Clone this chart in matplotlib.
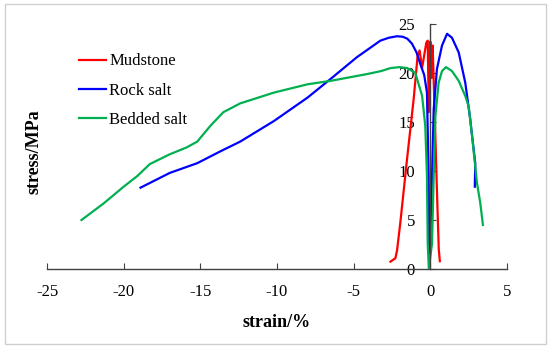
import matplotlib
matplotlib.use('Agg')
import matplotlib.pyplot as plt
from matplotlib.patches import Rectangle

# strain (%) and stress (MPa)
mud_strain = [-2.6, -2.28, -2.17, -1.96, -1.52, -1.09, -0.83, -0.7, -0.54, -0.26,
              -0.17, -0.1, 0.0, 0.08, 0.15, 0.3, 0.45, 0.55, 0.62]
mud_stress = [0.75, 1.1, 1.9, 4.7, 11.2, 17.3, 21.75, 22.3, 20.5, 23.1,
              23.3, 16.0, 23.2, 19.5, 22.8, 15.0, 7.0, 2.0, 0.8]

rock_strain = [-18.9, -17.0, -15.2, -13.7, -12.4, -10.2, -8.0, -6.5, -4.8, -3.26,
               -2.7, -2.17, -1.8, -1.5, -1.2, -0.9, -0.65, -0.4, -0.22, -0.11,
               -0.07, 0.11, 0.22, 0.43, 0.76, 1.09, 1.41, 1.85, 2.28, 2.6,
               2.7, 2.93, 2.9]
rock_stress = [8.3, 9.8, 10.8, 12.0, 13.0, 15.1, 17.5, 19.4, 21.6, 23.3,
               23.6, 23.75, 23.7, 23.5, 23.0, 22.1, 20.9, 19.8, 18.0, 9.5,
               0.2, 9.5, 16.3, 20.4, 22.8, 24.0, 23.6, 22.1, 19.0, 15.3,
               13.9, 10.8, 8.4]

bed_strain = [-22.75, -21.3, -20.0, -19.1, -18.3, -17.0, -15.9, -15.2, -14.35, -13.5,
              -12.4, -10.2, -8.0, -6.5, -4.1, -3.2, -2.6, -2.0, -1.5, -0.98,
              -0.54, -0.33, -0.22, -0.17, -0.1, 0.11, 0.22, 0.33, 0.54, 0.76,
              1.02, 1.41, 1.85, 2.28, 2.5, 2.72, 3.04, 3.26, 3.43]
bed_stress = [5.0, 6.7, 8.4, 9.5, 10.7, 11.7, 12.4, 13.0, 14.6, 16.0,
              16.9, 18.0, 18.85, 19.2, 19.9, 20.2, 20.5, 20.6, 20.5, 20.0,
              17.7, 14.6, 9.5, 2.6, 0.07, 2.6, 9.5, 15.6, 19.0, 20.2,
              20.6, 20.2, 19.2, 17.65, 16.6, 13.6, 8.8, 6.7, 4.5]

serif = ['Liberation Serif', 'DejaVu Serif']
plt.rcParams['font.family'] = serif
plt.rcParams['axes.unicode_minus'] = False

fig = plt.figure(figsize=(5.5, 3.48), dpi=100)
ax = fig.add_axes([47 / 550, 1 - 269 / 348, 460 / 550, 245 / 348])

ax.plot(mud_strain, mud_stress, color='#ff0000', lw=1.6, label='Mudstone')
ax.plot(rock_strain, rock_stress, color='#0000ff', lw=1.6, label='Rock salt')
ax.plot(bed_strain, bed_stress, color='#00b050', lw=1.6, label='Bedded salt')

ax.set_xlim(-25, 5)
ax.set_ylim(0, 25)
ax.set_xticks(range(-25, 6, 5))
ax.set_yticks(range(0, 26, 5))

ax.spines['left'].set_position(('data', 0))
ax.spines['right'].set_visible(False)
ax.spines['top'].set_visible(False)
for s in ('left', 'bottom'):
    ax.spines[s].set_color('#404040')
    ax.spines[s].set_linewidth(1.0)
ax.tick_params(direction='in', length=4, color='#404040', labelsize=12)
ax.tick_params(axis='x', pad=11)
ax.tick_params(axis='y', pad=11)

ax.set_xlabel('strain/%', fontsize=13, fontweight='bold', labelpad=10)
ax.set_ylabel('stress/MPa', fontsize=13, fontweight='bold')
ax.yaxis.set_label_coords(-0.01, 0.48)

ax.legend(loc='upper left', bbox_to_anchor=(0.07, 0.88), frameon=False,
          fontsize=12, handlelength=1.6, handletextpad=0.2, labelspacing=0.8,
          borderpad=0, borderaxespad=0)

fig.patches.append(Rectangle((5 / 550, 4 / 348), 541 / 550, 340 / 348,
                             transform=fig.transFigure, fill=False,
                             edgecolor='#d0d0d0', lw=1.0))

fig.savefig('out.png', dpi=100)
